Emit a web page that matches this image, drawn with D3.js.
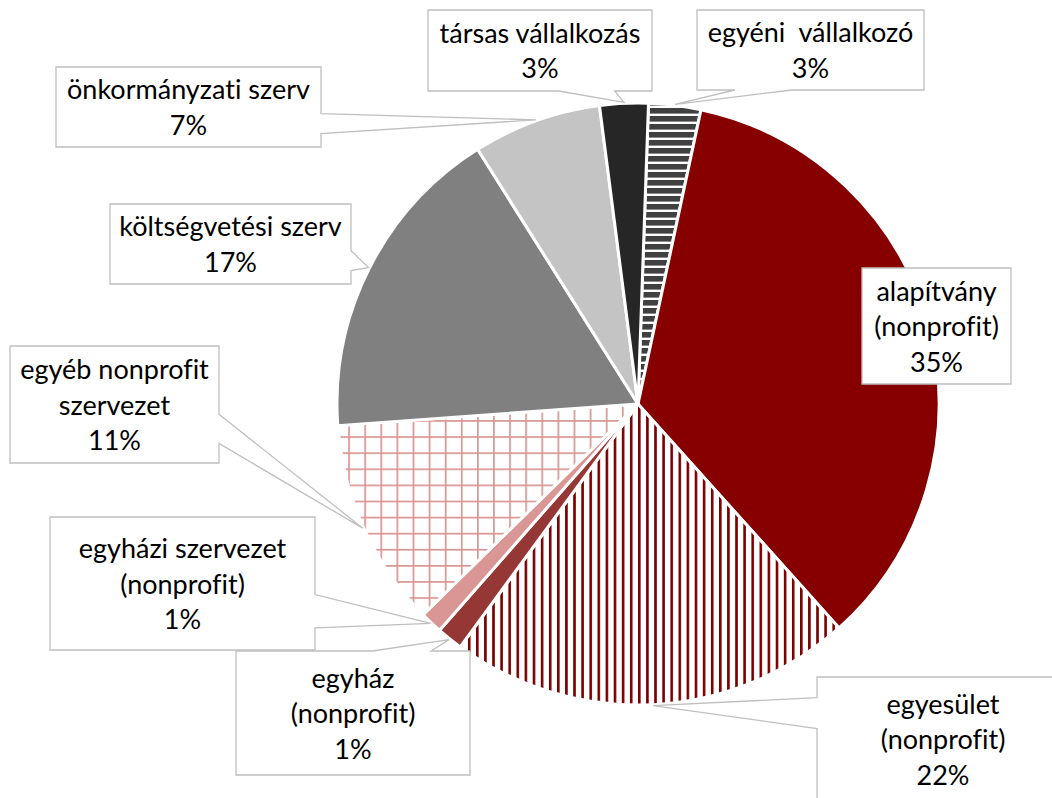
<!DOCTYPE html>
<html>
<head>
<meta charset="utf-8">
<script src="https://cdn.jsdelivr.net/npm/d3@7"></script>
<style>
  body { margin: 0; background: #fff; }
  svg text { font-family: Lato, 'Open Sans', sans-serif; white-space: pre; font-variant-ligatures: none; }
</style>
</head>
<body>
<svg id="chart"></svg>
<script>
// slices, clockwise from the top
const categories = [
  'egyéni  vállalkozó',
  'alapítvány\n(nonprofit)',
  'egyesület\n(nonprofit)',
  'egyház\n(nonprofit)',
  'egyházi szervezet\n(nonprofit)',
  'egyéb nonprofit\nszervezet',
  'költségvetési szerv',
  'önkormányzati szerv',
  'társas vállalkozás'
];
const shares = [2.8, 35.0, 21.7, 1.4, 1.2, 11.2, 17.2, 6.9, 2.6];
const fills = ['url(#hstripe)', '#870000', 'url(#vstripe)', '#953735', '#d99694', 'url(#grid)', '#808080', '#c4c4c4', '#262626'];

// label boxes (x, y, w, h) placed by hand like the original
const boxes = [
  [697, 10, 227, 80],
  [862, 268, 149, 116],
  [817, 677, 252, 124],
  [236, 651, 234, 124],
  [50, 517, 265, 133],
  [10, 346, 209, 117],
  [110, 204, 241, 80],
  [56, 67, 265, 80],
  [428, 10, 224, 81]
];

const width = 1052, height = 798;
const cx = 638, cy = 404, radius = 301;
const startAngle = 2 * Math.PI / 180;
const lineH = 35.5;

const svg = d3.select('#chart')
  .attr('width', width)
  .attr('height', height);

const defs = svg.append('defs');

const hs = defs.append('pattern').attr('id', 'hstripe')
  .attr('patternUnits', 'userSpaceOnUse').attr('width', 8).attr('height', 8);
hs.append('rect').attr('width', 8).attr('height', 8).attr('fill', '#fff');
hs.append('rect').attr('width', 8).attr('height', 5.6).attr('fill', '#404040');

const vs = defs.append('pattern').attr('id', 'vstripe')
  .attr('patternUnits', 'userSpaceOnUse').attr('width', 8.1).attr('height', 8);
vs.append('rect').attr('width', 8.1).attr('height', 8).attr('fill', '#fff');
vs.append('rect').attr('width', 2.6).attr('height', 8).attr('fill', '#7a0000');

const gp = defs.append('pattern').attr('id', 'grid')
  .attr('patternUnits', 'userSpaceOnUse').attr('width', 16.1).attr('height', 16.1);
gp.append('rect').attr('width', 16.1).attr('height', 16.1).attr('fill', '#fff');
gp.append('rect').attr('x', 0).attr('width', 1.7).attr('height', 16.1).attr('fill', '#d99694');
gp.append('rect').attr('y', 0).attr('width', 16.1).attr('height', 1.7).attr('fill', '#d99694');

const pie = d3.pie().value(d => d).sort(null)
  .startAngle(startAngle).endAngle(startAngle + 2 * Math.PI);
const arcs = pie(shares);
const arc = d3.arc().innerRadius(0).outerRadius(radius);
const tipArc = d3.arc().innerRadius(radius + 1).outerRadius(radius + 1);

const g = svg.append('g').attr('transform', `translate(${cx},${cy})`);

g.selectAll('path.slice')
  .data(arcs)
  .join('path')
  .attr('class', 'slice')
  .attr('d', arc)
  .attr('fill', (d, i) => fills[i])
  .attr('stroke', '#fff')
  .attr('stroke-width', 3)
  .attr('stroke-linejoin', 'round');

// Excel style wedge callout: the wedge leaves the side facing the tip
function callout(b, tip) {
  const [l, t, w, h] = b;
  const r = l + w, bt = t + h, hc = l + w / 2, vc = t + h / 2;
  const dx = tip[0] - hc, dy = tip[1] - vc;
  const p = d3.path();
  const inside = tip[0] > l && tip[0] < r && tip[1] > t && tip[1] < bt;
  if (inside) {
    p.rect(l, t, w, h);
    return p.toString();
  }
  const dz = Math.abs(dy) - Math.abs(dx * h / w);
  const x1 = l + w * (dx > 0 ? 7 : 2) / 12, x2 = l + w * (dx > 0 ? 10 : 5) / 12;
  const y1 = t + h * (dy > 0 ? 7 : 2) / 12, y2 = t + h * (dy > 0 ? 10 : 5) / 12;
  p.moveTo(l, t);
  if (dz > 0 && dy < 0) { p.lineTo(x1, t); p.lineTo(tip[0], tip[1]); p.lineTo(x2, t); }
  p.lineTo(r, t);
  if (dz <= 0 && dx > 0) { p.lineTo(r, y1); p.lineTo(tip[0], tip[1]); p.lineTo(r, y2); }
  p.lineTo(r, bt);
  if (dz > 0 && dy > 0) { p.lineTo(x2, bt); p.lineTo(tip[0], tip[1]); p.lineTo(x1, bt); }
  p.lineTo(l, bt);
  if (dz <= 0 && dx < 0) { p.lineTo(l, y2); p.lineTo(tip[0], tip[1]); p.lineTo(l, y1); }
  p.closePath();
  return p.toString();
}

const total = d3.sum(shares);

const labels = svg.append('g').selectAll('g.label')
  .data(arcs)
  .join('g')
  .attr('class', 'label');

labels.append('path')
  .attr('d', (d, i) => {
    const c = tipArc.centroid(d);
    return callout(boxes[i], [c[0] + cx, c[1] + cy]);
  })
  .attr('fill', '#fff')
  .attr('stroke', '#bfbfbf')
  .attr('stroke-width', 1.3);

labels.each(function (d, i) {
  const b = boxes[i];
  const lines = categories[i].split('\n').concat([Math.round(d.value / total * 100) + '%']);
  const n = lines.length;
  const text = d3.select(this).append('text')
    .attr('text-anchor', 'middle')
    .attr('font-size', 27)
    .attr('fill', '#000');
  lines.forEach((s, k) => {
    text.append('tspan')
      .attr('x', b[0] + b[2] / 2)
      .attr('y', b[1] + b[3] / 2 + 10 + (k - (n - 1) / 2) * lineH)
      .text(s);
  });
});
</script>
</body>
</html>
